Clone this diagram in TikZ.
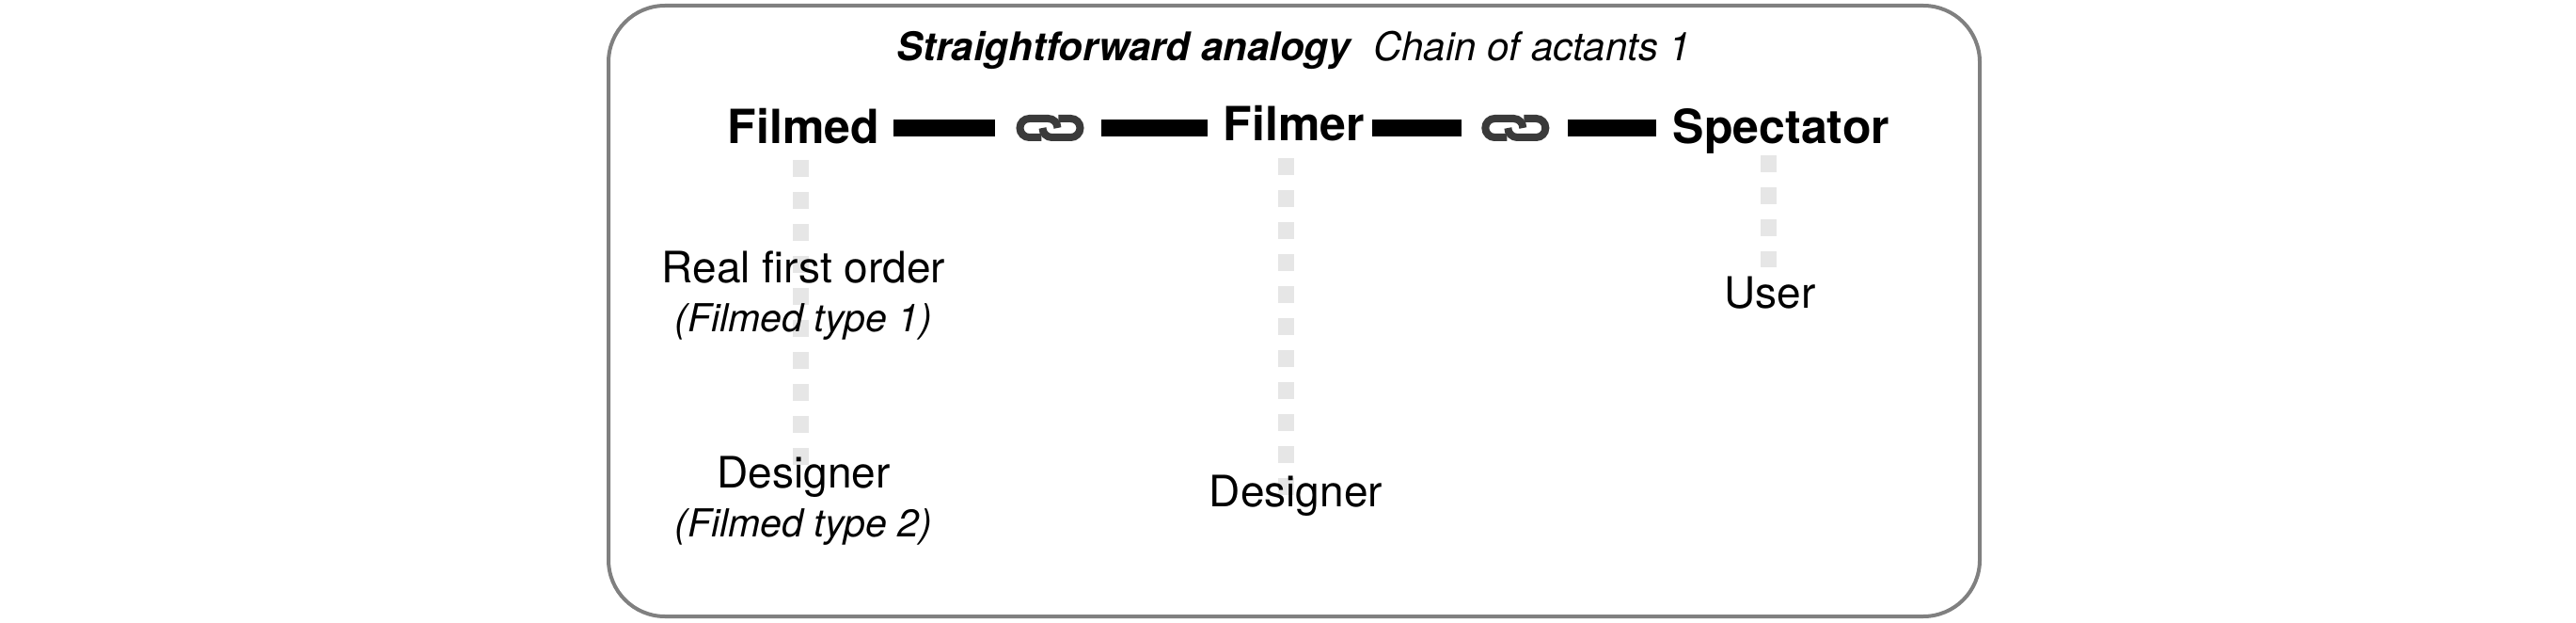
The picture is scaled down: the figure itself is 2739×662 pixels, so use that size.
\documentclass[tikz,border=0pt]{standalone}
\usepackage{fontspec}
\setmainfont{TeX Gyre Heros}
\usepackage{tikz}
\usetikzlibrary{positioning}
\definecolor{framegray}{HTML}{808080}
\definecolor{dotgray}{HTML}{E6E6E6}
\definecolor{linkgray}{HTML}{3A3A3A}

\begin{document}
\begin{tikzpicture}[
  x=0.5pt, y=-0.5pt,
  frame/.style={draw=framegray, line width=2pt, rounded corners=30pt},
  actant/.style={font=\fontsize{25}{25}\selectfont\bfseries, text height=17pt, text depth=0pt, inner xsep=4pt, inner ysep=0pt},
  linkbox/.style={minimum width=56.5pt, minimum height=14pt, inner sep=0pt, outer sep=0pt},
  role/.style={align=center, font=\fontsize{23}{26}\selectfont, inner sep=0pt},
  bar/.style={line width=9pt, black},
  dots/.style={line width=8.5pt, dotgray, dash pattern=on 9pt off 8pt},
  chainlink/.pic={
    \draw[linkgray, line width=4pt] (-9,10) -- (-22,10) arc[start angle=90, end angle=270, radius=10] -- (-2,-10) arc[start angle=-90, end angle=0, radius=10];
    \draw[linkgray, line width=4pt] (9,-10) -- (22,-10) arc[start angle=-90, end angle=90, radius=10] -- (2,10) arc[start angle=90, end angle=180, radius=10];
  }
]
  \useasboundingbox (0,0) rectangle (2739,662);
  \draw[frame] (647,6) rectangle (2105,655);

  \coordinate (filmedtop)    at (851,170);
  \coordinate (filmedfoot)   at (851,494);
  \coordinate (filmertop)    at (1367,168);
  \coordinate (filmerfoot)   at (1367,526);
  \coordinate (spectatortop) at (1880,165);
  \coordinate (spectatorfoot) at (1880,284);
  \draw[dots] (filmedtop)    -- (filmedfoot);
  \draw[dots] (filmertop)    -- (filmerfoot);
  \draw[dots] (spectatortop) -- (spectatorfoot);

  \node[inner sep=0pt] (title) at (1376,55) {\fontsize{21}{25}\selectfont\strut\textbf{\textit{Straightforward analogy}}\hspace{11pt}\textit{Chain of actants 1}};

  \node[actant] (filmed) at (854.5,136) {Filmed};
  \node[linkbox, right=57.5pt of filmed]  (linka) {};
  \node[actant, right=60.5pt of linka, yshift=1.5pt] (filmer) {Filmer};
  \node[linkbox, right=47.5pt of filmer, yshift=-1.5pt] (linkb) {};
  \node[actant, right=51.5pt of linkb] (spectator) {Spectator};

  \pic[xshift=0.75pt] at (linka) {chainlink};
  \pic[xshift=0.25pt] at (linkb) {chainlink};

  \draw[bar, shorten <=3.5pt] (filmed.east) -- (linka.west);
  \draw[bar, shorten >=4pt] (linka.east) -- (linka.east -| filmer.west);
  \draw[bar] (linkb.west -| filmer.east) -- (linkb.west);
  \draw[bar, shorten >=4.5pt] (linkb.east) -- (spectator.west);

  \node[role, below=56.5pt of filmed] (realorder) {Real first order\\{\fontsize{20.5}{26}\selectfont\itshape (Filmed type 1)}};
  \node[role, below=165.5pt of filmed] (designera) {Designer\\{\fontsize{20.5}{26}\selectfont\itshape (Filmed type 2)}};
  \node[role, below=177pt of filmer, xshift=1pt] (designerb) {Designer};
  \node[role, below=70pt of spectator, xshift=-6pt] (user) {User};
\end{tikzpicture}
\end{document}
